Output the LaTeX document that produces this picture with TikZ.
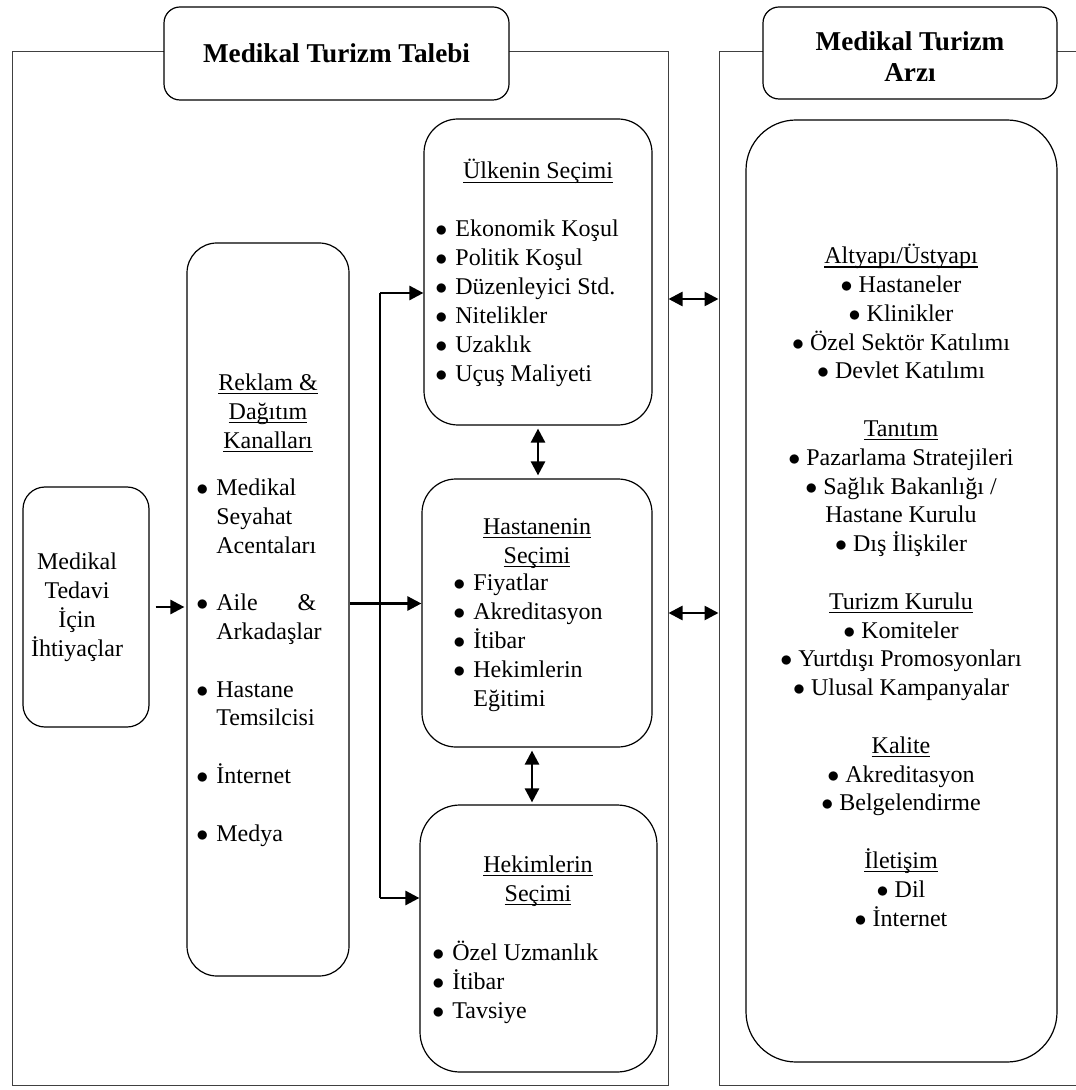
\documentclass[tikz,border=0pt]{standalone}
\usepackage{fontspec}
\setmainfont{Liberation Serif}
\usetikzlibrary{arrows.meta}

\newcommand{\govde}{\fontsize{12}{14.4}\selectfont}
\newcommand{\nokta}{\(\bullet\)}
\newcommand{\mad}{\makebox[10pt][l]{\nokta}}
\newcommand{\bos}{\hspace*{10pt}}
\newsavebox{\altkutu}
\newcommand{\alti}[1]{\sbox{\altkutu}{#1}\rlap{\rule[-2pt]{\wd\altkutu}{0.6pt}}\usebox{\altkutu}}

\begin{document}
\begin{tikzpicture}[x=0.5pt, y=-0.5pt,
    cerceve/.style={draw=black!75, line width=0.5pt, minimum height=516.5pt, inner sep=0pt},
    kutu/.style={draw, line width=0.6pt, fill=white, inner sep=0pt},
    baslik/.style={kutu, rounded corners=8pt},
    baslikyazi/.style={inner sep=0pt, font=\fontsize{13.6}{15.5}\selectfont\bfseries, align=center, anchor=base},
    yazi/.style={inner sep=0pt, font=\govde},
    liste/.style={yazi, align=left, anchor=base west},
    orta/.style={yazi, align=center, anchor=base},
    ince/.style={line width=0.6pt},
    ok/.style={line width=1.3pt, -{Triangle[length=7pt, width=7pt]}},
    ciftok/.style={line width=1.3pt, {Triangle[length=7pt, width=7pt]}-{Triangle[length=7pt, width=7pt]}}]
    \useasboundingbox (0,0) rectangle (1075,1090);

    % frames and titles
    \node[cerceve, minimum width=328pt] (talep) at (340,568.5) {};
    \node[cerceve, minimum width=190.5pt] (arz) at (909.5,568.5) {};
    \node[baslik, minimum width=172.5pt, minimum height=46.5pt] (talepbaslik) at (336.5,53.5) {};
    \node[baslik, minimum width=147pt, minimum height=46pt] (arzbaslik) at (910,53) {};
    \node[baslikyazi] (talepbaslikyazi) at (336.5,63) {Medikal Turizm Talebi};
    \node[baslikyazi] (arzbaslikyazi) at (910,82) {Medikal Turizm\\Arzı};

    % boxes
    \node[kutu, rounded corners=11pt, minimum width=63pt, minimum height=120pt] (ihtiyac) at (86,607) {};
    \node[kutu, rounded corners=15pt, minimum width=81pt, minimum height=366.5pt] (reklam) at (268,609.5) {};
    \node[kutu, rounded corners=17pt, minimum width=114pt, minimum height=153pt] (ulke) at (538,272) {};
    \node[kutu, rounded corners=17pt, minimum width=115pt, minimum height=134pt] (hastane) at (537,613) {};
    \node[kutu, rounded corners=20pt, minimum width=118.5pt, minimum height=133.5pt] (hekim) at (538.5,938.5) {};
    \node[kutu, rounded corners=25pt, minimum width=155.5pt, minimum height=471pt] (arzkutu) at (901.5,591) {};

    % texts (placed at the baseline of their last line)
    \node[orta] (ihtiyacyazi) at (77,656) {Medikal\\Tedavi\\İçin\\İhtiyaçlar};

    \node[orta] (reklambaslik) at (268,448) {\alti{Reklam \&}\\\alti{Dağıtım}\\\alti{Kanalları}};
    \node[liste] (reklamliste) at (196,841) {\mad Medikal\\\bos Seyahat\\\bos Acentaları\\[14.4pt]
        \mad Aile\hfill\&\\\bos Arkadaşlar\\[14.4pt]
        \mad Hastane\\\bos Temsilcisi\\[14.4pt]
        \mad İnternet\\[14.4pt]
        \mad Medya};

    \node[orta] (ulkebaslik) at (538,179) {\alti{Ülkenin Seçimi}};
    \node[liste] (ulkeliste) at (435,381) {\mad Ekonomik Koşul\\\mad Politik Koşul\\\mad Düzenleyici Std.\\
        \mad Nitelikler\\\mad Uzaklık\\\mad Uçuş Maliyeti};

    \node[orta] (hastanebaslik) at (537,563) {\alti{Hastanenin}\\\alti{Seçimi}};
    \node[liste] (hastaneliste) at (453,706) {\mad Fiyatlar\\\mad Akreditasyon\\\mad İtibar\\
        \mad Hekimlerin\\\bos Eğitimi};

    \node[orta] (hekimbaslik) at (538,901) {\alti{Hekimlerin}\\\alti{Seçimi}};
    \node[liste] (hekimliste) at (432,1018) {\mad Özel Uzmanlık\\\mad İtibar\\\mad Tavsiye};

    \node[orta] (arzyazi) at (901,926) {\alti{Altyapı/Üstyapı}\\\nokta\ Hastaneler\\\nokta\ Klinikler\\
        \nokta\ Özel Sektör Katılımı\\\nokta\ Devlet Katılımı\\[14.4pt]
        \alti{Tanıtım}\\\nokta\ Pazarlama Stratejileri\\\nokta\ Sağlık Bakanlığı /\\Hastane Kurulu\\
        \nokta\ Dış İlişkiler\\[14.4pt]
        \alti{Turizm Kurulu}\\\nokta\ Komiteler\\\nokta\ Yurtdışı Promosyonları\\\nokta\ Ulusal Kampanyalar\\[14.4pt]
        \alti{Kalite}\\\nokta\ Akreditasyon\\\nokta\ Belgelendirme\\[14.4pt]
        \alti{İletişim}\\\nokta\ Dil\\\nokta\ İnternet};

    % connectors
    \coordinate (dalust) at (380,293);
    \coordinate (dalalt) at (380,898);
    \draw[ok, shorten <=3pt, shorten >=1pt] (ihtiyac.east) -- (ihtiyac.east -| reklam.west);
    \draw[ok] ([yshift=3pt]reklam.east) -- ([yshift=3pt]reklam.east -| hastane.west);
    \draw[ince] (dalust) -- (dalalt);
    \draw[ok] (dalust) -- (dalust -| ulke.west);
    \draw[ok] (dalalt) -- (dalalt -| hekim.west);
    \draw[ciftok, shorten <=1.5pt, shorten >=1.5pt] (ulke.south) -- (ulke.south |- hastane.north);
    \draw[ciftok, shorten <=1.5pt, shorten >=1pt] ([xshift=-2.5pt]hastane.south) -- ([xshift=-2.5pt]hastane.south |- hekim.north);
    \draw[ciftok] ([yshift=-3pt]talep.east |- dalust) -- ([yshift=-3pt]arz.west |- dalust);
    \draw[ciftok] (talep.east |- hastane.east) -- (arz.west |- hastane.east);
\end{tikzpicture}
\end{document}
